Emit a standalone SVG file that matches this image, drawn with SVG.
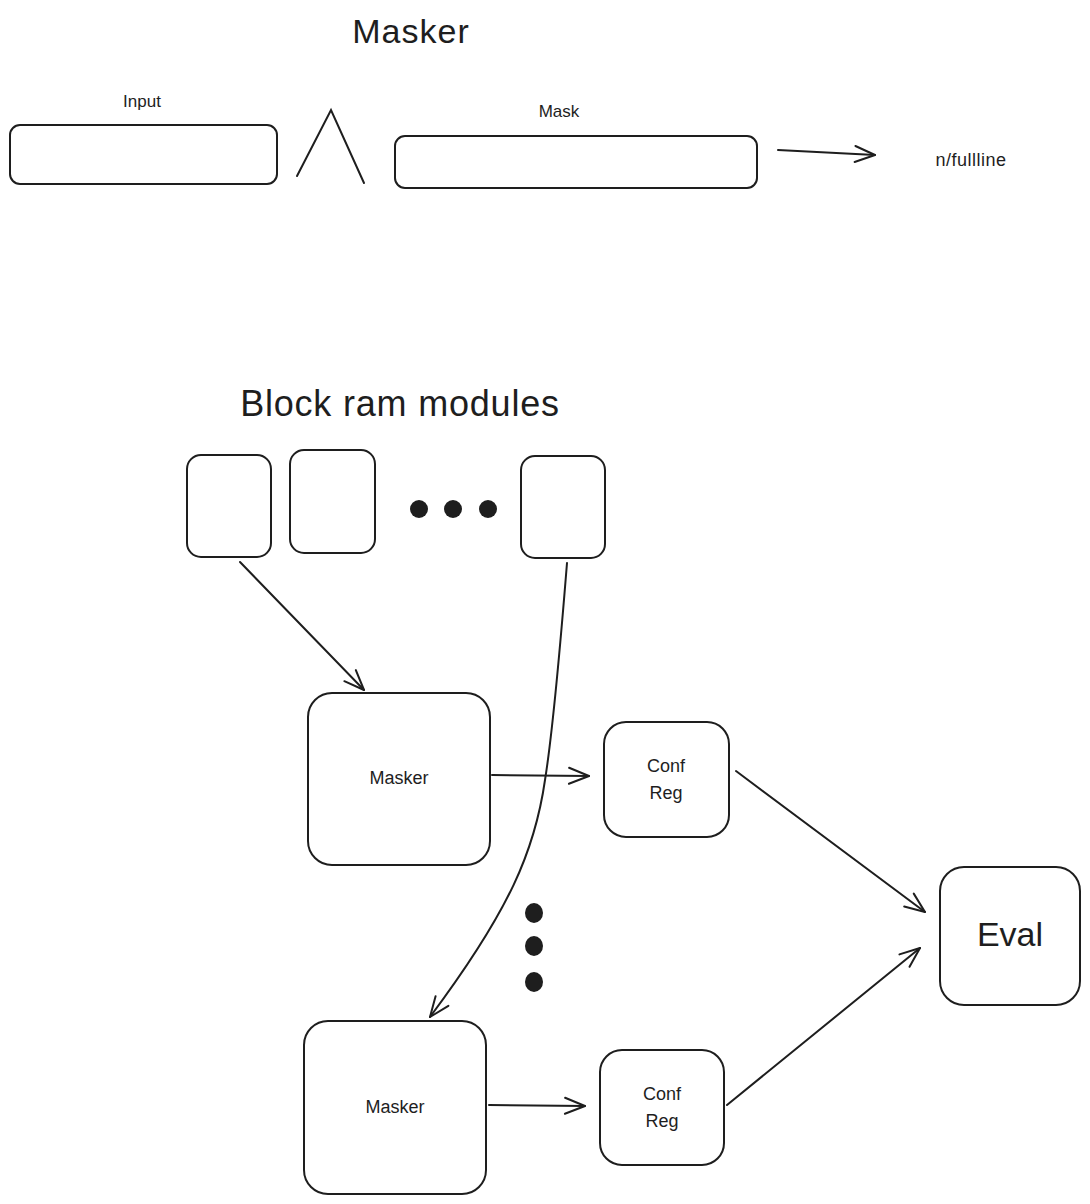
<svg xmlns="http://www.w3.org/2000/svg" width="1090" height="1204" viewBox="0 0 1090 1204">
<defs>
<marker id="ah" markerWidth="24" markerHeight="24" viewBox="-22 -12 24 24" refX="0" refY="0" orient="auto" markerUnits="userSpaceOnUse">
<path d="M-20,-8 L0,0 L-20,8" fill="none" stroke="#1e1e1e" stroke-width="2" stroke-linecap="round" stroke-linejoin="round"/>
</marker>
</defs>
<style>
.b{fill:#ffffff;stroke:#1e1e1e;stroke-width:2}
.l{fill:none;stroke:#1e1e1e;stroke-width:2;stroke-linecap:round}
.t{font-family:"Liberation Sans",Arial,sans-serif;fill:#1e1e1e;text-anchor:middle}
.d{fill:#1e1e1e}
</style>
<rect width="1090" height="1204" fill="#ffffff"/>
<g id="title-masker"><text class="t" x="411" y="43" font-size="34" letter-spacing="1">Masker</text></g>
<g id="input"><rect class="b" x="10" y="125" width="267" height="59" rx="10"/><text class="t" x="142" y="107" font-size="17">Input</text></g>
<g id="and-symbol"><path class="l" d="M297,176 L331,110 L364,183"/></g>
<g id="mask"><rect class="b" x="395" y="136" width="362" height="52" rx="10"/><text class="t" x="559" y="117" font-size="17">Mask</text></g>
<g id="fullline"><text class="t" x="971" y="166" font-size="18" letter-spacing="0.5">n/fullline</text></g>
<g id="title-bram"><text class="t" x="400" y="416" font-size="36" letter-spacing="0.8">Block ram modules</text></g>
<g id="bram1"><rect class="b" x="187" y="455" width="84" height="102" rx="14"/></g>
<g id="bram2"><rect class="b" x="290" y="450" width="85" height="103" rx="14"/></g>
<g id="bram-dots"><circle class="d" cx="419" cy="509" r="9"/><circle class="d" cx="453" cy="509" r="9"/><circle class="d" cx="488" cy="509" r="9"/></g>
<g id="bramN"><rect class="b" x="521" y="456" width="84" height="102" rx="14"/></g>
<g id="masker1"><rect class="b" x="308" y="693" width="182" height="172" rx="24"/><text class="t" x="399" y="784" font-size="18">Masker</text></g>
<g id="confreg1"><rect class="b" x="604" y="722" width="125" height="115" rx="22"/><text class="t" x="666" y="772" font-size="18">Conf</text><text class="t" x="666" y="799" font-size="18">Reg</text></g>
<g id="vdots"><ellipse class="d" cx="534" cy="913" rx="9" ry="10"/><ellipse class="d" cx="534" cy="946" rx="9" ry="10"/><ellipse class="d" cx="534" cy="982" rx="9" ry="10"/></g>
<g id="eval"><rect class="b" x="940" y="867" width="140" height="138" rx="24"/><text class="t" x="1010" y="946" font-size="34">Eval</text></g>
<g id="masker2"><rect class="b" x="304" y="1021" width="182" height="173" rx="24"/><text class="t" x="395" y="1113" font-size="18">Masker</text></g>
<g id="confreg2"><rect class="b" x="600" y="1050" width="124" height="115" rx="22"/><text class="t" x="662" y="1100" font-size="18">Conf</text><text class="t" x="662" y="1127" font-size="18">Reg</text></g>
<g id="connectors">
<path class="l" d="M778,150 L875,155" marker-end="url(#ah)" stroke-width="3"/>
<path class="l" d="M240,562 L364,690" marker-end="url(#ah)"/>
<path class="l" d="M567,563 C560,650 553,730 545,780 C535,850 510,910 430,1017" marker-end="url(#ah)"/>
<path class="l" d="M492,775 L589,776" marker-end="url(#ah)" stroke-width="3"/>
<path class="l" d="M736,771 L925,912" marker-end="url(#ah)"/>
<path class="l" d="M489,1105 L585,1106" marker-end="url(#ah)" stroke-width="3"/>
<path class="l" d="M727,1105 L920,948" marker-end="url(#ah)"/>
</g>
</svg>
